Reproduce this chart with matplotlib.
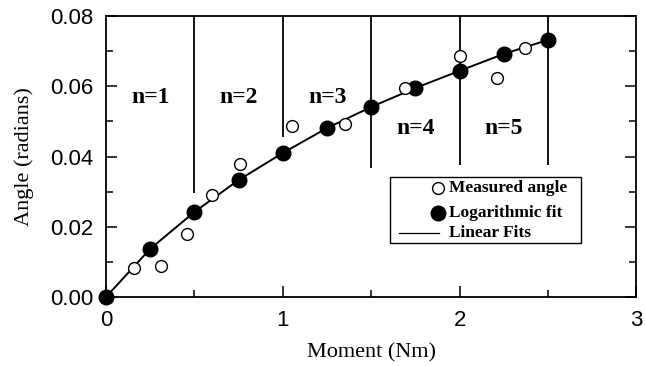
import matplotlib
matplotlib.use("Agg")
import matplotlib.pyplot as plt
from matplotlib.patches import Rectangle
from matplotlib.ticker import MultipleLocator

# Logarithmic fit points (filled), joined by the piecewise linear fits
fit_moment = [0.0, 0.25, 0.5, 0.75, 1.0, 1.25, 1.5, 1.75, 2.0, 2.25, 2.5]
fit_angle = [0.0, 0.0137, 0.0242, 0.0333, 0.0410, 0.0481, 0.0541, 0.0595, 0.0644, 0.0692, 0.0732]

# Measured angles (open circles)
meas_moment = [0.16, 0.31, 0.46, 0.60, 0.76, 1.05, 1.35, 1.69, 2.00, 2.21, 2.37]
meas_angle = [0.0083, 0.0088, 0.0180, 0.0290, 0.0380, 0.0487, 0.0493, 0.0595, 0.0686, 0.0623, 0.0709]

# Segment dividers: x position and lower end of each line
div_x = [0.5, 1.0, 1.5, 2.0, 2.5]
div_bottom = [0.0295, 0.0456, 0.0367, 0.0376, 0.0376]

# Segment labels
seg_labels = ["n=1", "n=2", "n=3", "n=4", "n=5"]
seg_x = [0.25, 0.75, 1.25, 1.75, 2.25]
seg_y = [0.0567, 0.0567, 0.0567, 0.0480, 0.0480]

x_ticks = [0, 1, 2, 3]
x_ticklabels = ["0", "1", "2", "3"]
y_ticks = [0, 0.02, 0.04, 0.06, 0.08]
y_ticklabels = ["0.00", "0.02", "0.04", "0.06", "0.08"]

serif = ["Liberation Serif", "DejaVu Serif"]
sans = ["Liberation Sans", "DejaVu Sans"]

fig = plt.figure(figsize=(6.45, 3.66), dpi=100)
ax = fig.add_axes([0.1643, 0.1885, 0.8225, 0.7678])

ax.vlines(div_x, div_bottom, 0.08, color="black", lw=1.3)
ax.plot(fit_moment, fit_angle, color="black", lw=1.4, marker="o", ms=10.5,
        mfc="black", mec="black", zorder=3, clip_on=False)
ax.plot(meas_moment, meas_angle, ls="none", marker="o", ms=8.5,
        mfc="white", mec="black", mew=1.0, zorder=4)

for lab, x, y in zip(seg_labels, seg_x, seg_y):
    ax.text(x, y, lab, ha="center", va="center", fontsize=17,
            fontweight="bold", family=serif)

ax.set_xlim(0, 3)
ax.set_ylim(0, 0.08)
ax.set_xticks(x_ticks)
ax.set_xticklabels(x_ticklabels, family=sans)
ax.set_yticks(y_ticks)
ax.set_yticklabels(y_ticklabels, family=sans)
ax.xaxis.set_minor_locator(MultipleLocator(0.5))
ax.yaxis.set_minor_locator(MultipleLocator(0.01))
ax.tick_params(which="both", direction="in", top=False, right=True,
               labelsize=16, width=1.1)
ax.tick_params(which="major", length=8, pad=9)
ax.tick_params(which="minor", length=5)
for s in ax.spines.values():
    s.set_linewidth(1.3)

ax.set_xlabel("Moment (Nm)", fontsize=16, family=serif, labelpad=9)
ax.set_ylabel("Angle (radians)", fontsize=16, family=serif, labelpad=12)

# legend drawn by hand to match the original layout
tr = ax.transAxes
ax.add_patch(Rectangle((0.535, 0.192), 0.36, 0.235, transform=tr,
                       fill=True, fc="white", ec="black", lw=1.0, zorder=5))
ax.plot([0.626], [0.388], transform=tr, marker="o", ms=8.5, mfc="white",
        mec="black", zorder=6)
ax.plot([0.626], [0.299], transform=tr, marker="o", ms=10.5, mfc="black",
        mec="black", zorder=6)
ax.plot([0.553, 0.628], [0.228, 0.228], transform=tr, color="black",
        lw=0.9, zorder=6)
for y, t in zip([0.388, 0.299, 0.228],
                ["Measured angle", "Logarithmic fit", "Linear Fits"]):
    ax.text(0.647, y, t, transform=tr, ha="left", va="center", fontsize=12.5,
            fontweight="bold", family=serif, zorder=6)

fig.savefig("out.png", dpi=100)
